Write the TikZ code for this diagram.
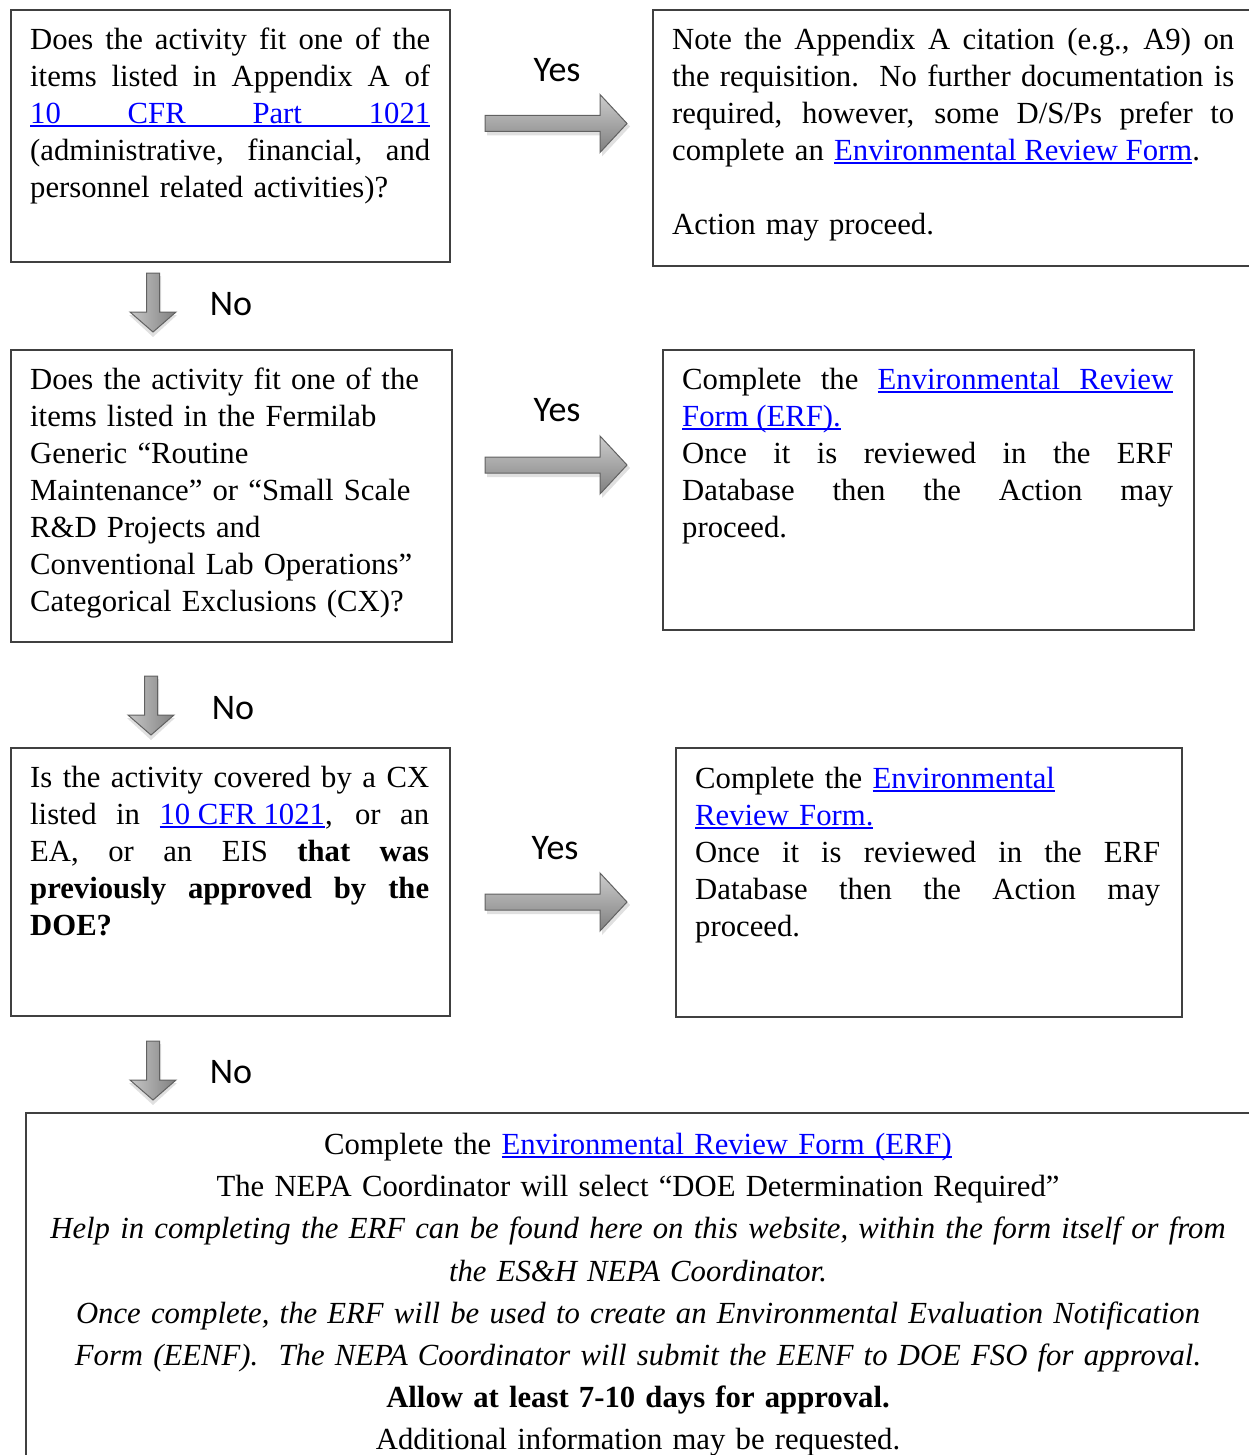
\documentclass[tikz,border=0pt]{standalone}
\usepackage{fontspec}
\setmainfont{Liberation Serif}
\newfontfamily\labelfont{Carlito}
\definecolor{linkblue}{RGB}{0,0,255}
\definecolor{boxgray}{RGB}{64,64,64}
\newcommand\ulw[1]{\leavevmode\setbox0=\hbox{#1}\rlap{\rule[-3.4pt]{\wd0}{2pt}}\box0}
\newcommand\uls{\leavevmode\leaders\hrule height -1.4pt depth 3.4pt\hskip\fontdimen2\font plus\fontdimen3\font minus\fontdimen4\font\relax}
\newcommand\lnk[1]{\leavevmode{\color{linkblue}#1}}
\newcommand\jl[2]{\makebox[#1][s]{\spaceskip=0pt\xspaceskip=0pt\relax #2}}
\tikzset{
  boxshape/.style={draw=boxgray, line width=2pt, rectangle, inner sep=0pt, anchor=north west},
  txt/.style={inner sep=0pt, anchor=north west, align=left, font=\fontsize{30.7}{37}\selectfont},
  yesno/.style={inner sep=0pt, font=\labelfont\fontsize{36}{40}\selectfont},
  arrowline/.style={draw=black!62, line width=1pt},
  rarrow/.pic={
    \fill[black!12] (2,-5) -- (117,-5) -- (117,-26) -- (145,3) -- (117,33) -- (117,12) -- (2,12) -- cycle;
    \shade[arrowline, top color=black!20, bottom color=black!50]
      (0,-8) -- (115,-8) -- (115,-29) -- (142,0) -- (115,29) -- (115,8) -- (0,8) -- cycle;
  },
  darrow/.pic={
    \fill[black!12] (-5,3) -- (8,3) -- (8,42) -- (24,42) -- (0,64) -- (-24,42) -- (-5,42) -- cycle;
    \shade[arrowline, left color=black!22, right color=black!50]
      (-6.5,0) -- (6.5,0) -- (6.5,39) -- (23,39) -- (0,59) -- (-23,39) -- (-6.5,39) -- cycle;
  }
}
\begin{document}
\begin{tikzpicture}[x=1pt,y=-1pt]
\useasboundingbox (0,0) rectangle (1249,1455);

% boxes
\node[boxshape, minimum width=439pt, minimum height=252pt] (boxA) at (10,9) {};
\node[boxshape, minimum width=610pt, minimum height=256pt] (boxB) at (652,9) {};
\node[boxshape, minimum width=441pt, minimum height=292pt] (boxC) at (10,349) {};
\node[boxshape, minimum width=531pt, minimum height=280pt] (boxD) at (662,349) {};
\node[boxshape, minimum width=439pt, minimum height=268pt] (boxE) at (10,747) {};
\node[boxshape, minimum width=506pt, minimum height=269pt] (boxF) at (675,747) {};
\node[boxshape, minimum width=1237pt, minimum height=358pt] (boxG) at (25,1112) {};

% texts
\node[txt, text width=400pt] (tA) at (30,28) {%
\jl{400pt}{Does the activity fit one of the}\\
\jl{400pt}{items listed in Appendix A of}\\
\jl{400pt}{\lnk{\ulw{10}\uls\ulw{CFR}\uls\ulw{Part}\uls\ulw{1021}}}\\
\jl{400pt}{(administrative, financial, and}\\
personnel related activities)?};

\node[txt, text width=562pt] (tB) at (672,28) {%
\jl{562pt}{Note the Appendix A citation (e.g., A9) on}\\
\jl{562pt}{the requisition.\ \ No further documentation is}\\
\jl{562pt}{required, however, some D/S/Ps prefer to}\\
complete an \lnk{\ulw{Environmental}\uls\ulw{Review}\uls\ulw{Form}}.\\[37pt]
Action may proceed.};

\node[txt, text width=420pt] (tC) at (30,368) {%
Does the activity fit one of the\\
items listed in the Fermilab\\
Generic “Routine\\
Maintenance” or “Small Scale\\
R\&D Projects and\\
Conventional Lab Operations”\\
Categorical Exclusions (CX)?};

\node[txt, text width=491pt] (tD) at (682,368) {%
\jl{491pt}{Complete the \lnk{\ulw{Environmental}\uls\ulw{Review}}}\\
\lnk{\ulw{Form}\uls\ulw{(ERF).}}\\
\jl{491pt}{Once it is reviewed in the ERF}\\
\jl{491pt}{Database then the Action may}\\
proceed.};

\node[txt, text width=399pt] (tE) at (30,766) {%
\jl{399pt}{Is the activity covered by a CX}\\
\jl{399pt}{listed in \lnk{\ulw{10 CFR 1021}}, or an}\\
\jl{399pt}{EA, or an EIS \textbf{that was}}\\
\jl{399pt}{\textbf{previously approved by the}}\\
\textbf{DOE?}};

\node[txt, text width=465pt] (tF) at (695,767) {%
Complete the \lnk{\ulw{Environmental}}\\
\lnk{\ulw{Review Form.}}\\
\jl{465pt}{Once it is reviewed in the ERF}\\
\jl{465pt}{Database then the Action may}\\
proceed.};

\node[txt, anchor=north, align=center, text width=1226pt, font=\fontsize{30.7}{42.2}\selectfont] (tG) at (638,1133) {%
Complete the \lnk{\ulw{Environmental Review Form (ERF)}}\\
The NEPA Coordinator will select “DOE Determination Required”\\
\textit{Help in completing the ERF can be found here on this website, within the form itself or from}\\
\textit{the ES\&H NEPA Coordinator.}\\
\textit{Once complete, the ERF will be used to create an Environmental Evaluation Notification}\\
\textit{Form (EENF).\ \ The NEPA Coordinator will submit the EENF to DOE FSO for approval.}\\
\textbf{Allow at least 7-10 days for approval.}\\
Additional information may be requested.};

% arrows
\pic at (485,123.5) {rarrow};
\pic at (485,465) {rarrow};
\pic at (485,902) {rarrow};
\pic at (153,273) {darrow};
\pic at (151,676) {darrow};
\pic at (153,1041) {darrow};

% labels
\node[yesno] (y1) at (557,70) {Yes};
\node[yesno] (y2) at (557,410) {Yes};
\node[yesno] (y3) at (555,848) {Yes};
\node[yesno] (n1) at (231,304) {No};
\node[yesno] (n2) at (233,708) {No};
\node[yesno] (n3) at (231,1072) {No};
\end{tikzpicture}
\end{document}
